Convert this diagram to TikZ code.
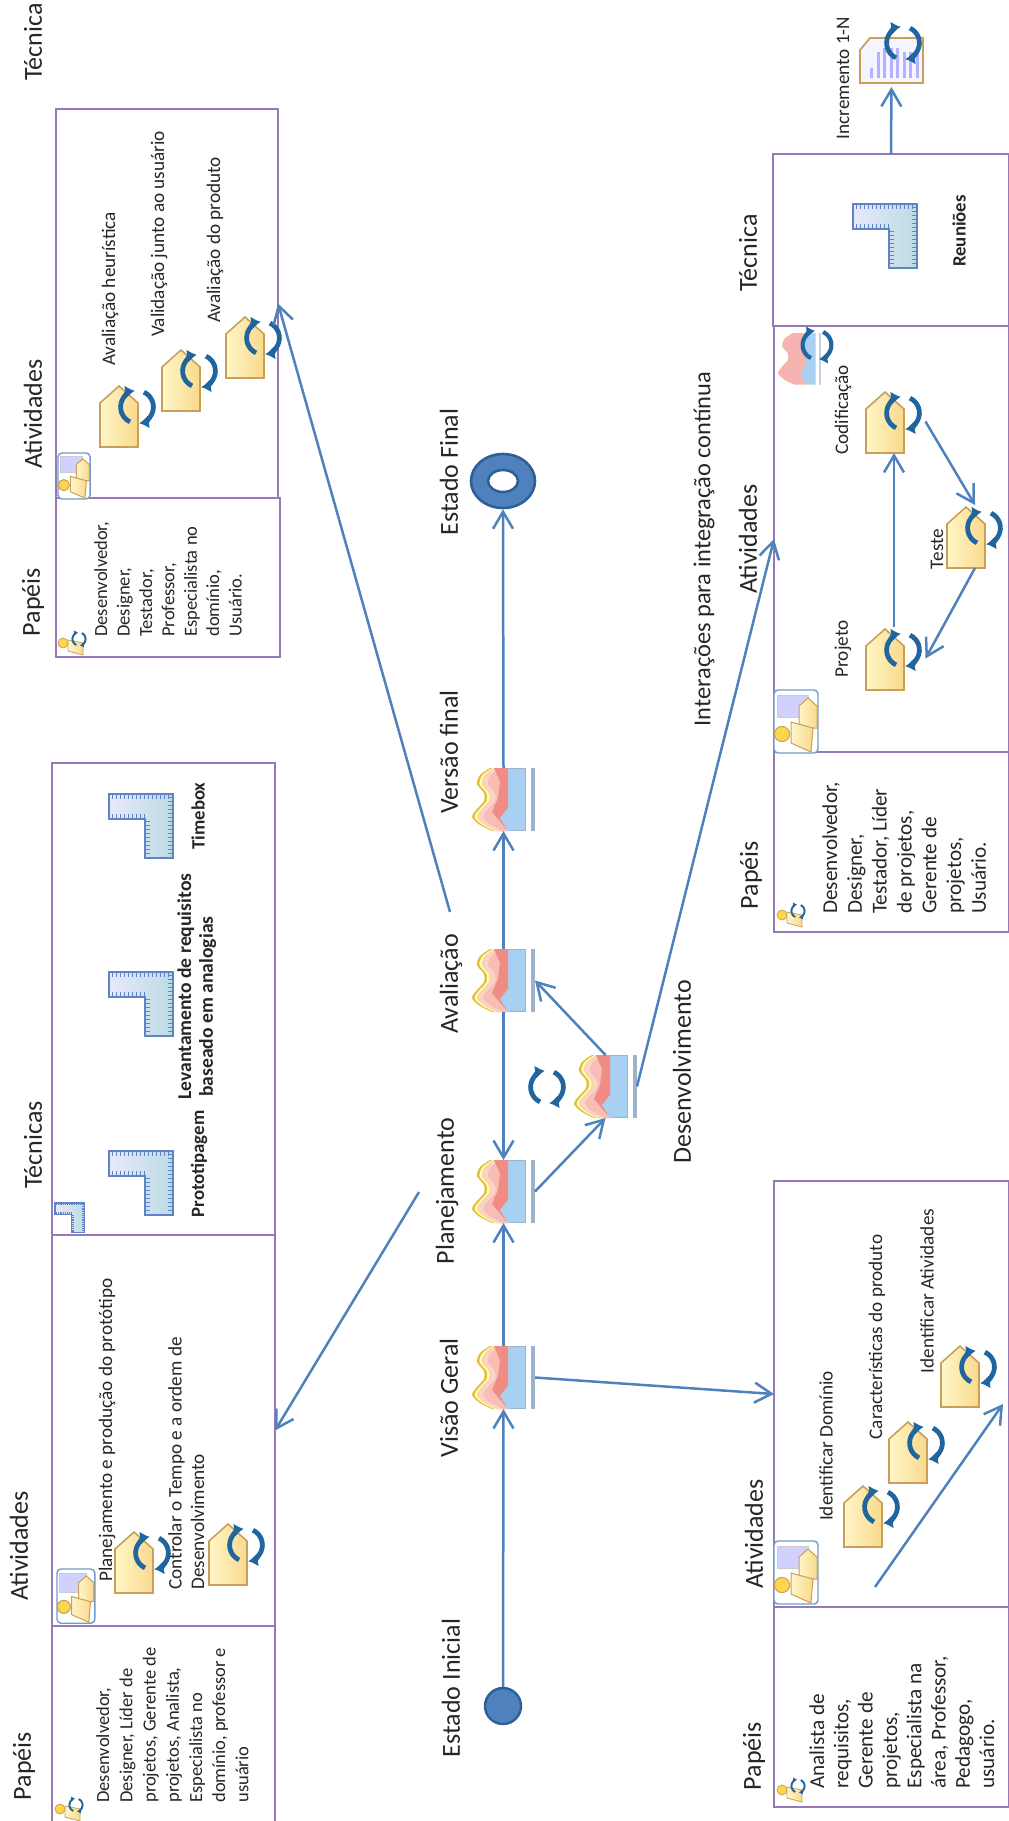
\documentclass[tikz,border=0pt]{standalone}
\usepackage{fontspec}
\setmainfont{Carlito}
\usepackage{xcolor}
\usetikzlibrary{arrows.meta,shapes.geometric}
\definecolor{azul}{HTML}{4F81BD}
\definecolor{azulesc}{HTML}{2F5F97}
\definecolor{ciclocor}{HTML}{21659F}
\definecolor{roxo}{HTML}{9579B8}
\definecolor{ouro}{HTML}{C9A05A}
\definecolor{claro}{HTML}{FFF6C8}
\definecolor{gema}{HTML}{F9D98C}
\definecolor{azulfase}{HTML}{A7D0F2}
\definecolor{barra}{HTML}{9DB3CC}
\definecolor{verm}{HTML}{F08C84}
\definecolor{rosa}{HTML}{FBD3CC}
\definecolor{lilas}{HTML}{E9E8FB}
\definecolor{agua}{HTML}{BBDCE4}
\definecolor{traco}{HTML}{5F83C4}
\newcommand{\grande}{\fontsize{13}{15}\selectfont}
\newcommand{\medio}{\fontsize{9.6}{11.2}\selectfont}
\newcommand{\ciclo}[3]{
  \draw[ciclocor,line width=#3*0.29pt,-{Latex[length=0pt 2.0,width=0pt 2.8]}] (#1,#2) ++(245:#3pt) arc[start angle=245,end angle=98,radius=#3pt];
  \draw[ciclocor,line width=#3*0.29pt,-{Latex[length=0pt 2.0,width=0pt 2.8]}] (#1,#2) ++(65:#3pt) arc[start angle=65,end angle=-82,radius=#3pt];
}
\newcommand{\onda}[3]{
  \fill[#2] plot[smooth] coordinates {(18+#1,0) (8+#1,7) (5+#1,16) (12+#1,25) (12+#1,33) (5+#1,41) (0+#1,49) (8+#1,57) (20+#1,63)} -- (#3,63) -- (#3,0) -- cycle;
}
\newcommand{\fase}[3]{
  \node[icone] (#1) at (#2,#3) {};
  \pic at (#1.north west) {fasepic};
}
\newcommand{\ativ}[3]{
  \node[icone] (#1) at (#2,#3) {};
  \pic at (#1.north west) {casapic};
}
\tikzset{
  seta/.style={azul,line width=1.25pt,-{Straight Barb[length=8.5pt,width=10pt]}},
  caixa/.style={draw=roxo,line width=.75pt,anchor=north west,inner sep=0,outer sep=0},
  icone/.style={anchor=north west,minimum size=31.5pt,inner sep=0,outer sep=0},
  rotulo/.style={rotate=90,font=\grande,text=black!85},
  medtxt/.style={rotate=90,font=\medio,text=black!85},
  negtxt/.style={rotate=90,font=\fontsize{9.4}{11.2}\selectfont\bfseries,text=black!85},
  lista/.style={rotate=90,anchor=north west,align=left,inner sep=0,text=black!85},
  pics/fasepic/.style={code={
    \onda{0}{ouro!60!yellow!90!orange}{36}
    \onda{2.5}{claro}{36}
    \onda{5}{gema}{36}
    \onda{7}{rosa}{36}
    \fill[azulfase] (26,0) rectangle (53,63);
    \draw[barra,line width=.5pt] (26,.5) rectangle (53,62.5);
    \onda{7}{rosa}{36}
    \onda{11}{rosa!70!verm}{34}
    \fill[verm] (36,0) -- (22,0) -- (28,14) -- (26,30) -- (20,44) -- (36,63) -- (30,50) -- (36,40) -- cycle;
    \fill[azulfase] (36,63) -- (28,50) -- (36,40) -- (38,63) -- cycle;
    \fill[barra] (59,0) rectangle (63,63);
  }},
  pics/casapic/.style={code={
    \draw[ouro,line width=.8pt,left color=claro,right color=gema] (3.5,63) -- (41.5,63) -- (41.5,19) -- (22.5,2) -- (3.5,19) -- cycle;
    \ciclo{40.5}{23}{8.2}
  }},
  pics/reguapic/.style={code={
    \draw[traco,line width=.6pt,left color=lilas,right color=agua] (0,0) -- (64,0) -- (64,64) -- (36,64) -- (36,25) -- (0,25) -- cycle;
    \foreach \t in {3,7,...,61} {
      \draw[traco,line width=.5pt] (\t,1) -- (\t,5);
      \draw[traco,line width=.5pt] (59,\t) -- (63,\t);
    }
    \foreach \t in {3,7,...,35} \draw[traco,line width=.5pt] (\t,20) -- (\t,24);
    \foreach \t in {27,31,...,63} \draw[traco,line width=.5pt] (37,\t) -- (41,\t);
  }},
  pics/papelpic/.style={code={
    \draw[azul!80,line width=.7pt,fill=white,rounded corners=2pt] (0,0) rectangle (44,63);
    \draw[gray!40,line width=.5pt,fill=blue!18] (3,5) rectangle (34,27);
    \draw[ouro,line width=.5pt,left color=claro,right color=gema] (25,38) -- (43,38) -- (43,16) -- (34,8) -- (25,16) -- cycle;
    \draw[ouro,line width=.5pt,left color=claro,right color=gema] (17,32) -- (39,38) -- (37,62) -- (17,53) -- cycle;
    \draw[ouro,line width=.5pt,fill=yellow!60!orange!70] (8,44) circle (3.8pt);
  }},
  pics/pessoapic/.style={code={
    \draw[ouro,line width=.4pt,fill=yellow!60!orange!70] (5,13) circle (2.5pt);
    \draw[ouro,line width=.4pt,left color=claro,right color=gema] (10,10) -- (25,13) -- (25,25) -- (10,21) -- cycle;
    \ciclo{21}{9}{3.3}
  }},
  pics/incpic/.style={code={
    \draw[ouro,line width=.9pt,fill=blue!4] (0,12) -- (10,0) -- (63,0) -- (63,45) -- (0,45) -- cycle;
    \foreach \t/\h in {10/30,17/14,23/10,30/10,36/10,43/14,49/14,56/14} \fill[blue!30] (\t,\h) rectangle ++(3,-\h+40);
    \ciclo{43}{5}{8.2}
  }},
  pics/fasecic/.style={code={
    \begin{scope}[scale=.82]
      \onda{0}{verm!65!white}{34}
      \fill[azulfase] (34,63) -- (28,50) -- (34,38) -- (34,0) -- (46,0) -- (46,63) -- cycle;
      \fill[barra!60!white] (50,0) rectangle (53,63);
    \end{scope}
    \ciclo{39}{12}{7.2}
  }}
}
\begin{document}
\begin{tikzpicture}[x=0.5pt,y=-0.5pt]
  \useasboundingbox (0,0) rectangle (1008,1821);

  % Caixas de cima
  \node[caixa,minimum width=111pt,minimum height=194.5pt] (atvC) at (56,109) {};
  \node[caixa,minimum width=112pt,minimum height=79.5pt] (papC) at (56,498) {};
  \node[caixa,minimum width=111.5pt,minimum height=236pt] (tecE) at (52,763) {};
  \node[caixa,minimum width=111.5pt,minimum height=195.5pt] (atvE) at (52,1235) {};
  \node[caixa,minimum width=111.5pt,minimum height=110pt] (papE) at (52,1626) {};
  % Caixas da direita
  \node[caixa,minimum width=118pt,minimum height=86pt] (tecD) at (773,154) {};
  \node[caixa,minimum width=117.5pt,minimum height=213pt] (atvD) at (774,326) {};
  \node[caixa,minimum width=117.5pt,minimum height=90pt] (papD) at (774,752) {};
  \node[caixa,minimum width=117.5pt,minimum height=213pt] (atvB) at (774,1181) {};
  \node[caixa,minimum width=117.5pt,minimum height=100pt] (papB) at (774,1607) {};

  % Linha principal
  \node[ellipse,draw=azulesc,line width=1.2pt,fill=azul,minimum width=18pt,minimum height=18pt,inner sep=0] (ini) at (503,1706) {};
  \fase{vg}{472}{1346}
  \fase{pl}{472}{1160}
  \fase{av}{472}{949}
  \fase{vf}{472}{768}
  \fase{dv}{574}{1055}
  \node[ellipse,draw=azulesc,line width=1.3pt,fill=azul,minimum width=32pt,minimum height=27pt,inner sep=0] (fim) at (503,481) {};
  \node[ellipse,draw=azulesc,line width=1.3pt,fill=white,minimum width=15pt,minimum height=11pt,inner sep=0] (fimc) at (503,481) {};
  \ciclo{547}{1087}{8.2}

  \node[rotulo] (lIni) at (451,1688) {Estado Inicial};
  \node[rotulo] (lVg) at (449,1398) {Visão Geral};
  \node[rotulo] (lPl) at (447,1191) {Planejamento};
  \node[rotulo] (lAv) at (451,984) {Avaliação};
  \node[rotulo] (lVf) at (449,752) {Versão final};
  \node[rotulo] (lFim) at (449,472) {Estado Final};
  \node[rotulo] (lDv) at (682,1072) {Desenvolvimento};
  \node[rotulo,font=\fontsize{12.2}{15}\selectfont] (lInt) at (704,549) {Interações para integração contínua};

  % Titulos das colunas
  \node[rotulo] (tTc) at (33,42) {Técnica};
  \node[rotulo] (tAc) at (33,414) {Atividades};
  \node[rotulo] (tPc) at (33,602) {Papéis};
  \node[rotulo] (tTe) at (33,1145) {Técnicas};
  \node[rotulo] (tAe) at (19,1546) {Atividades};
  \node[rotulo] (tPe) at (24,1766) {Papéis};
  \node[rotulo] (tTd) at (748,253) {Técnica};
  \node[rotulo] (tAd) at (748,539) {Atividades};
  \node[rotulo] (tPd) at (751,875) {Papéis};
  \node[rotulo] (tAb) at (754,1534) {Atividades};
  \node[rotulo] (tPb) at (754,1756) {Papéis};

  % Avaliacao
  \pic[scale=.73] at (58,453) {papelpic};
  \ativ{aH}{96.5}{384}
  \ativ{aV}{158.5}{348}
  \ativ{aP}{222.5}{315}
  \node[medtxt] (tH) at (110,289) {Avaliação heurística};
  \node[medtxt] (tV) at (159,234) {Validação junto ao usuário};
  \node[medtxt] (tP) at (215,240) {Avaliação do produto};
  \pic at (58,630) {pessoapic};
  \node[lista,font=\fontsize{9.25}{11.2}\selectfont] (lsC) at (94,637) {Desenvolvedor,\\Designer,\\Testador,\\Professor,\\Especialista no\\domínio,\\Usuário.};

  % Planejamento
  \pic[scale=.46] at (55,1203) {reguapic};
  \pic at (109,794) {reguapic};
  \pic at (109,972) {reguapic};
  \pic at (109,1151) {reguapic};
  \node[negtxt] (tTb) at (198,816) {Timebox};
  \node[rotate=90,anchor=north west,align=left,font=\fontsize{9.8}{10.8}\selectfont\bfseries,inner sep=0,text=black!85] (tLv) at (177,1100) {Levantamento de requisitos\\\hspace{1.5pt}baseado em analogias};
  \node[negtxt] (tPr) at (199,1164) {Prototipagem};
  \pic[scale=.86] at (57,1569) {papelpic};
  \ativ{pP}{111.5}{1530}
  \ativ{pC}{205.5}{1522}
  \node[medtxt] (tPp) at (107,1430) {Planejamento e produção do protótipo};
  \node[rotate=90,anchor=north west,align=left,font=\medio,inner sep=0,text=black!85] (tCt) at (168,1590) {Controlar o Tempo e a ordem de\\Desenvolvimento};
  \pic at (55,1796) {pessoapic};
  \node[lista,font=\fontsize{9.25}{11.6}\selectfont] (lsE) at (96,1803) {Desenvolvedor,\\Designer, Líder de\\projetos, Gerente de\\projetos, Analista,\\Especialista no\\domínio, professor e\\usuário};

  % Desenvolvimento
  \pic at (778,333) {fasecic};
  \pic at (774,690) {papelpic};
  \ativ{pj}{862.5}{627}
  \ativ{cd}{862.5}{390}
  \ativ{ts}{943.5}{505}
  \node[medtxt] (tCd) at (843,410) {Codificação};
  \node[medtxt] (tTs) at (937,549) {Teste};
  \node[medtxt] (tPj) at (843,649) {Projeto};
  \pic at (853,204) {reguapic};
  \node[negtxt] (tRe) at (959,231) {Reuniões};
  \pic (ic) at (860,38) {incpic};
  \node[icone,minimum size=0pt,minimum width=31.5pt,minimum height=22.5pt] (inc) at (860,38) {};
  \node[medtxt] (tIc) at (843,78) {Incremento 1-N};
  \node[lista,font=\fontsize{10.6}{12.4}\selectfont] (lsD) at (822,914) {Desenvolvedor,\\Designer,\\Testador, Líder\\de projetos,\\Gerente de\\projetos,\\Usuário.};
  \pic at (777,902) {pessoapic};

  % Visao geral
  \pic at (774,1541) {papelpic};
  \ativ{iD}{840.5}{1484}
  \ativ{iC}{885.5}{1420}
  \ativ{iA}{937.5}{1344}
  \node[medtxt] (tD) at (826,1446) {Identificar Domínio};
  \node[medtxt] (tC) at (877,1337) {Características do produto};
  \node[medtxt] (tA) at (927,1291) {Identificar Atividades};
  \pic at (777,1777) {pessoapic};
  \node[lista,font=\fontsize{10.6}{12.15}\selectfont] (lsB) at (809,1789) {Analista de\\requisitos,\\Gerente de\\projetos,\\Especialista na\\área, Professor,\\Pedagogo,\\usuário.};

  % Pontas livres
  \coordinate (sAv) at (450,912);
  \coordinate (sPl) at (419,1192);
  \coordinate (sI) at (875,1587);
  \coordinate (sF) at (1003,1404);

  % Ligacoes
  \draw[seta] (ini.north) -- (vg.south);
  \draw[seta] (vg.north) -- (pl.south);
  \draw[seta] (av.south) -- (pl.north);
  \draw[seta] (av.north) -- (vf.south);
  \draw[seta] (vf.north) -- (fim.south);
  \draw[seta] (pl.east) -- (dv.south);
  \draw[seta] (dv.north) -- (av.east);
  \draw[seta] (dv.east) -- (atvD.west);
  \draw[seta] (vg.east) -- (atvB.west);
  \draw[seta] (sAv) -- (atvC.east);
  \draw[seta] (sPl) -- (atvE.east);
  \draw[seta] (pj.north) -- (cd.south);
  \draw[seta] (cd.east) -- (ts.north);
  \draw[seta] (ts.south) -- (pj.east);
  \draw[seta] (sI) -- (sF);
  \draw[seta,shorten >=2pt] (tecD.north) -- (inc.south);
\end{tikzpicture}
\end{document}
